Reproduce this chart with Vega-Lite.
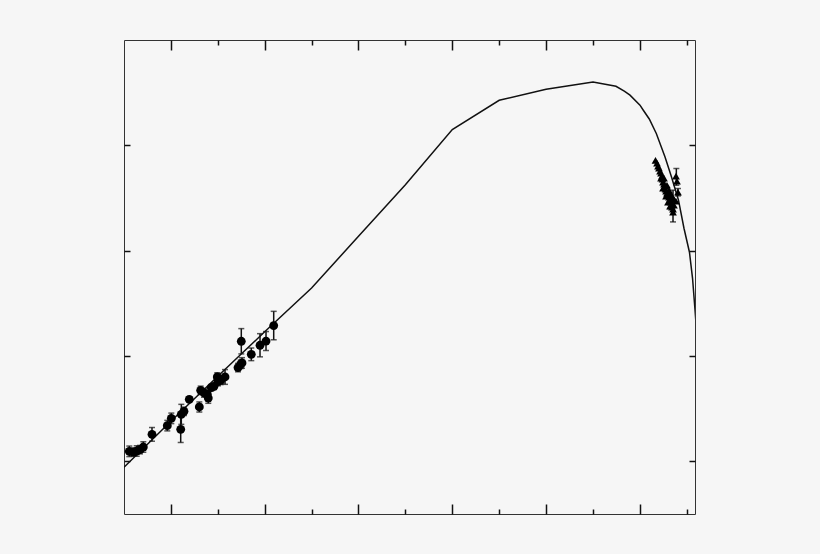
{
  "$schema": "https://vega.github.io/schema/vega-lite/v6.json",
  "width": 571,
  "height": 474,
  "autosize": {"type": "none"},
  "padding": {"left": 124, "top": 40, "right": 125, "bottom": 40},
  "background": "#f6f6f6",
  "config": {
    "view": {"stroke": "#333333", "strokeWidth": 1, "fill": null},
    "axis": {"grid": false, "labels": false, "domain": false, "title": null, "tickColor": "#111111", "tickWidth": 1.5}
  },
  "datasets": {
    "curve": [
      {"x": 0, "y": -0.057}, {"x": 1, "y": 0.38}, {"x": 2, "y": 0.807}, {"x": 3, "y": 1.23},
      {"x": 4, "y": 1.645}, {"x": 5, "y": 2.137}, {"x": 6, "y": 2.626}, {"x": 7, "y": 3.15},
      {"x": 8, "y": 3.428}, {"x": 9, "y": 3.533}, {"x": 10, "y": 3.602}, {"x": 10.49, "y": 3.561},
      {"x": 10.667, "y": 3.514}, {"x": 10.789, "y": 3.476}, {"x": 11.002, "y": 3.381}, {"x": 11.073, "y": 3.333},
      {"x": 11.2, "y": 3.25}, {"x": 11.35, "y": 3.112}, {"x": 11.536, "y": 2.89}, {"x": 11.674, "y": 2.7},
      {"x": 11.823, "y": 2.479}, {"x": 11.94, "y": 2.213}, {"x": 12.057, "y": 1.985}, {"x": 12.122, "y": 1.74},
      {"x": 12.175, "y": 1.44}, {"x": 12.196, "y": 1.31}
    ],
    "circ": [
      {"x": 0.113, "y": 0.095, "lo": 0.045, "hi": 0.145},
      {"x": 0.198, "y": 0.088, "lo": 0.048, "hi": 0.128},
      {"x": 0.271, "y": 0.098, "lo": 0.048, "hi": 0.148},
      {"x": 0.341, "y": 0.111, "lo": 0.071, "hi": 0.151},
      {"x": 0.412, "y": 0.136, "lo": 0.086, "hi": 0.186},
      {"x": 0.597, "y": 0.256, "lo": 0.191, "hi": 0.321},
      {"x": 0.923, "y": 0.339, "lo": 0.289, "hi": 0.389},
      {"x": 1.009, "y": 0.408, "lo": 0.358, "hi": 0.458},
      {"x": 1.209, "y": 0.304, "lo": 0.179, "hi": 0.429},
      {"x": 1.222, "y": 0.446, "lo": 0.351, "hi": 0.541},
      {"x": 1.279, "y": 0.475, "lo": 0.435, "hi": 0.515},
      {"x": 1.392, "y": 0.589, "lo": 0.569, "hi": 0.609},
      {"x": 1.606, "y": 0.516, "lo": 0.468, "hi": 0.564},
      {"x": 1.635, "y": 0.674, "lo": 0.634, "hi": 0.714},
      {"x": 1.706, "y": 0.649, "lo": 0.609, "hi": 0.689},
      {"x": 1.776, "y": 0.636, "lo": 0.596, "hi": 0.676},
      {"x": 1.797, "y": 0.601, "lo": 0.551, "hi": 0.651},
      {"x": 1.861, "y": 0.7, "lo": 0.67, "hi": 0.73},
      {"x": 1.919, "y": 0.712, "lo": 0.682, "hi": 0.742},
      {"x": 1.989, "y": 0.801, "lo": 0.761, "hi": 0.841},
      {"x": 2.004, "y": 0.757, "lo": 0.717, "hi": 0.797},
      {"x": 2.062, "y": 0.769, "lo": 0.729, "hi": 0.809},
      {"x": 2.154, "y": 0.801, "lo": 0.731, "hi": 0.871},
      {"x": 2.431, "y": 0.89, "lo": 0.85, "hi": 0.93},
      {"x": 2.488, "y": 0.921, "lo": 0.881, "hi": 0.961},
      {"x": 2.501, "y": 1.14, "lo": 1.02, "hi": 1.26},
      {"x": 2.516, "y": 0.934, "lo": 0.884, "hi": 0.984},
      {"x": 2.714, "y": 1.016, "lo": 0.956, "hi": 1.076},
      {"x": 2.9, "y": 1.102, "lo": 0.992, "hi": 1.212},
      {"x": 3.028, "y": 1.142, "lo": 1.052, "hi": 1.232},
      {"x": 3.192, "y": 1.289, "lo": 1.154, "hi": 1.424}
    ],
    "tri": [
      {"x": 11.333, "y": 2.858}, {"x": 11.365, "y": 2.83}, {"x": 11.386, "y": 2.802}, {"x": 11.407, "y": 2.783},
      {"x": 11.429, "y": 2.754}, {"x": 11.45, "y": 2.735}, {"x": 11.471, "y": 2.707}, {"x": 11.482, "y": 2.678},
      {"x": 11.493, "y": 2.65}, {"x": 11.514, "y": 2.631}, {"x": 11.535, "y": 2.612}, {"x": 11.546, "y": 2.583},
      {"x": 11.557, "y": 2.564}, {"x": 11.578, "y": 2.545}, {"x": 11.599, "y": 2.526}, {"x": 11.62, "y": 2.507},
      {"x": 11.642, "y": 2.488}, {"x": 11.663, "y": 2.46}, {"x": 11.674, "y": 2.431}, {"x": 11.684, "y": 2.412},
      {"x": 11.706, "y": 2.393}, {"x": 11.706, "y": 2.365}, {"x": 11.578, "y": 2.621}, {"x": 11.62, "y": 2.574},
      {"x": 11.642, "y": 2.545}, {"x": 11.684, "y": 2.517}, {"x": 11.727, "y": 2.488}, {"x": 11.77, "y": 2.707},
      {"x": 11.791, "y": 2.659}, {"x": 11.812, "y": 2.555}, {"x": 11.77, "y": 2.469}, {"x": 11.727, "y": 2.431},
      {"x": 11.514, "y": 2.688}, {"x": 11.45, "y": 2.688}, {"x": 11.493, "y": 2.593}, {"x": 11.557, "y": 2.517},
      {"x": 11.599, "y": 2.46}, {"x": 11.642, "y": 2.422}
    ],
    "triErr": [
      {"x": 11.777, "lo": 2.621, "hi": 2.78},
      {"x": 11.706, "lo": 2.273, "hi": 2.574},
      {"x": 11.812, "lo": 2.52, "hi": 2.59},
      {"x": 11.642, "lo": 2.4, "hi": 2.46}
    ]
  },
  "layer": [
    {
      "data": {"name": "curve"},
      "mark": {"type": "line", "color": "#111111", "strokeWidth": 1.5, "clip": true},
      "encoding": {
        "x": {
          "field": "x", "type": "quantitative",
          "scale": {"domain": [0, 12.175], "nice": false, "zero": false},
          "axis": {"orient": "bottom", "values": [1, 2, 3, 4, 5, 6, 7, 8, 9, 10, 11, 12],
            "tickSize": {"condition": {"test": "datum.value % 2 === 1", "value": -10}, "value": -5}}
        },
        "y": {
          "field": "y", "type": "quantitative",
          "scale": {"domain": [-0.5, 4], "nice": false, "zero": false},
          "axis": {"orient": "left", "values": [0, 1, 2, 3], "tickSize": -6}
        }
      }
    },
    {
      "data": {"name": "circ"},
      "mark": {"type": "errorbar", "ticks": true, "size": 6, "thickness": 1.5, "color": "#111111"},
      "encoding": {
        "x": {"field": "x", "type": "quantitative", "axis": null},
        "y": {"field": "lo", "type": "quantitative", "axis": null},
        "y2": {"field": "hi"}
      }
    },
    {
      "data": {"name": "triErr"},
      "mark": {"type": "errorbar", "ticks": true, "size": 6, "thickness": 1.5, "color": "#111111"},
      "encoding": {
        "x": {"field": "x", "type": "quantitative", "axis": null},
        "y": {"field": "lo", "type": "quantitative", "axis": null},
        "y2": {"field": "hi"}
      }
    },
    {
      "data": {"name": "circ"},
      "mark": {"type": "point", "shape": "circle", "filled": true, "size": 78, "color": "#000000", "opacity": 1},
      "encoding": {
        "x": {
          "field": "x", "type": "quantitative",
          "axis": {"orient": "top", "values": [1, 2, 3, 4, 5, 6, 7, 8, 9, 10, 11, 12],
            "tickSize": {"condition": {"test": "datum.value % 2 === 1", "value": -10}, "value": -5}}
        },
        "y": {
          "field": "y", "type": "quantitative",
          "axis": {"orient": "right", "values": [0, 1, 2, 3], "tickSize": -6}
        }
      }
    },
    {
      "data": {"name": "tri"},
      "mark": {"type": "point", "shape": "triangle-up", "filled": true, "size": 60, "color": "#000000", "opacity": 1},
      "encoding": {
        "x": {"field": "x", "type": "quantitative", "axis": null},
        "y": {"field": "y", "type": "quantitative", "axis": null}
      }
    }
  ],
  "resolve": {"axis": {"x": "independent", "y": "independent"}}
}
